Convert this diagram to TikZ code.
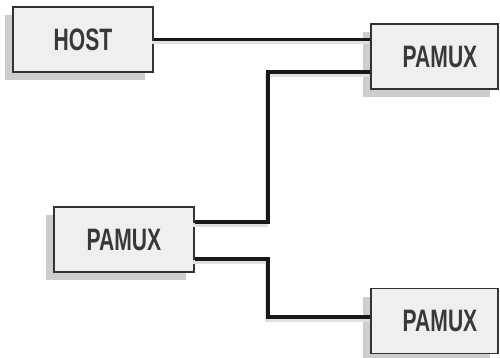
\documentclass[tikz,border=0pt]{standalone}
\usepackage{fontspec}
\newfontfamily\boxfont[FakeStretch=0.68]{Liberation Sans Bold}
\usetikzlibrary{shadows}
\definecolor{boxfill}{HTML}{EEF0EF}
\definecolor{boxline}{HTML}{333333}
\definecolor{txt}{HTML}{383838}
\definecolor{wire}{HTML}{181818}
\begin{document}
\begin{tikzpicture}[x=1pt,y=-1pt,
  unit/.style={draw=boxline, line width=1.8pt, fill=boxfill, rectangle,
    minimum height=65pt, inner sep=0pt, text=txt,
    font=\boxfont\fontsize{31}{32}\selectfont,
    drop shadow={shadow xshift=-8pt, shadow yshift=-8pt, fill=black!28, opacity=0.7}},
  wireline/.style={draw=wire, line width=3.8pt,
    preaction={draw=black!12, line width=3.5pt, transform canvas={xshift=-1.5pt, yshift=-3pt}}}]
\useasboundingbox (0,0) rectangle (500,358);
\node[unit, minimum width=140pt] (host) at (83,39.5) {HOST};
\node[unit, minimum width=127pt] (p1) at (434.5,56.5) {\hspace*{11pt}PAMUX};
\node[unit, minimum width=140pt] (mid) at (124,239.5) {PAMUX};
\node[unit, minimum width=127pt] (p2) at (434.5,321) {\hspace*{11pt}PAMUX};
\path (mid.east) ++(0,-17.5) coordinate (m1);
\path (mid.east) ++(0,19.5) coordinate (m2);
\path (p1.west) ++(0,15.5) coordinate (q1);
\path (p2.west) ++(0,-4) coordinate (q2);
\coordinate (j) at (268,0);
\draw[wireline] (host.east) -- (p1.west |- host.east);
\draw[wireline] (m1) -- (j |- m1) -- (j |- q1) -- (q1);
\draw[wireline] (m2) -- (j |- m2) -- (j |- q2) -- (q2);
\end{tikzpicture}
\end{document}
